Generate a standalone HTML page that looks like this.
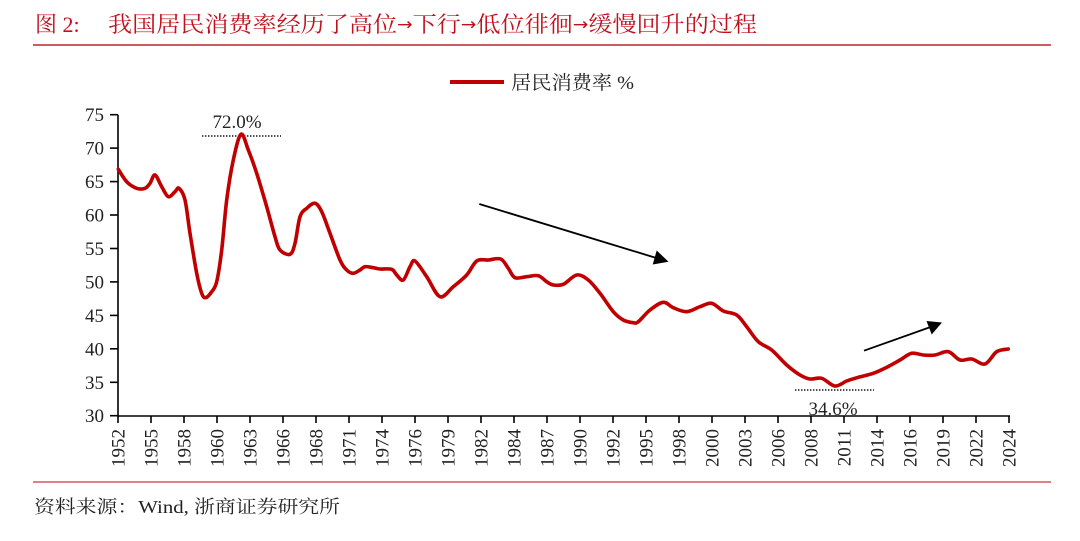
<!DOCTYPE html>
<html><head><meta charset="utf-8"><style>
html,body{margin:0;padding:0;background:#fff;}
svg{display:block;}
</style></head><body>
<svg width="1080" height="541" viewBox="0 0 1080 541" xmlns="http://www.w3.org/2000/svg">
<rect width="1080" height="541" fill="#fff"/>
<!-- title -->
<text x="35" y="32" font-family="'Liberation Serif','Noto Serif CJK SC',serif" font-size="22" fill="#c0101c">图 2:</text>
<text x="108" y="32" font-family="'Liberation Serif','Noto Serif CJK SC',serif" font-size="22" fill="#c0101c" textLength="649" lengthAdjust="spacingAndGlyphs">我国居民消费率经历了高位<tspan font-family="'DejaVu Sans',sans-serif" font-size="17" dy="-2">→</tspan><tspan dy="2">下行</tspan><tspan font-family="'DejaVu Sans',sans-serif" font-size="17" dy="-2">→</tspan><tspan dy="2">低位徘徊</tspan><tspan font-family="'DejaVu Sans',sans-serif" font-size="17" dy="-2">→</tspan><tspan dy="2">缓慢回升的过程</tspan></text>
<line x1="33" y1="45" x2="1051" y2="45" stroke="#d25a5c" stroke-width="2"/>
<!-- legend -->
<line x1="450" y1="82" x2="504" y2="82" stroke="#c00000" stroke-width="4"/>
<text x="511" y="89" font-family="'Liberation Serif','Noto Serif CJK SC',serif" font-size="19" fill="#222" textLength="123" lengthAdjust="spacingAndGlyphs">居民消费率 %</text>
<!-- y axis -->
<g stroke="#000" stroke-width="1.6">
<line x1="118" y1="114.7" x2="118" y2="416.5"/>
<line x1="110" y1="114.7" x2="118" y2="114.7"/>
<line x1="110" y1="148.1" x2="118" y2="148.1"/>
<line x1="110" y1="181.6" x2="118" y2="181.6"/>
<line x1="110" y1="215.0" x2="118" y2="215.0"/>
<line x1="110" y1="248.5" x2="118" y2="248.5"/>
<line x1="110" y1="281.9" x2="118" y2="281.9"/>
<line x1="110" y1="315.4" x2="118" y2="315.4"/>
<line x1="110" y1="348.8" x2="118" y2="348.8"/>
<line x1="110" y1="382.3" x2="118" y2="382.3"/>
<line x1="110" y1="415.7" x2="118" y2="415.7"/>
</g>
<g font-family="'Liberation Serif',serif" font-size="19" fill="#222" text-anchor="end">
<text x="104" y="121.2">75</text>
<text x="104" y="154.6">70</text>
<text x="104" y="188.1">65</text>
<text x="104" y="221.5">60</text>
<text x="104" y="255.0">55</text>
<text x="104" y="288.4">50</text>
<text x="104" y="321.9">45</text>
<text x="104" y="355.3">40</text>
<text x="104" y="388.8">35</text>
<text x="104" y="422.2">30</text>
</g>
<!-- bottom annotation text (under axis) -->
<text x="833" y="415" font-family="'Liberation Serif',serif" font-size="19" fill="#222" text-anchor="middle">34.6%</text>
<!-- x axis -->
<g stroke="#000" stroke-width="1.6">
<line x1="117" y1="416" x2="1010" y2="416"/>
<line x1="118" y1="416" x2="118" y2="423"/><line x1="151" y1="416" x2="151" y2="423"/><line x1="184" y1="416" x2="184" y2="423"/><line x1="217" y1="416" x2="217" y2="423"/><line x1="250" y1="416" x2="250" y2="423"/><line x1="283" y1="416" x2="283" y2="423"/><line x1="316" y1="416" x2="316" y2="423"/><line x1="349" y1="416" x2="349" y2="423"/><line x1="382" y1="416" x2="382" y2="423"/><line x1="415" y1="416" x2="415" y2="423"/><line x1="448" y1="416" x2="448" y2="423"/><line x1="481" y1="416" x2="481" y2="423"/><line x1="514" y1="416" x2="514" y2="423"/><line x1="547" y1="416" x2="547" y2="423"/><line x1="580" y1="416" x2="580" y2="423"/><line x1="613" y1="416" x2="613" y2="423"/><line x1="646" y1="416" x2="646" y2="423"/><line x1="679" y1="416" x2="679" y2="423"/><line x1="712" y1="416" x2="712" y2="423"/><line x1="745" y1="416" x2="745" y2="423"/><line x1="778" y1="416" x2="778" y2="423"/><line x1="811" y1="416" x2="811" y2="423"/><line x1="844" y1="416" x2="844" y2="423"/><line x1="877" y1="416" x2="877" y2="423"/><line x1="910" y1="416" x2="910" y2="423"/><line x1="943" y1="416" x2="943" y2="423"/><line x1="976" y1="416" x2="976" y2="423"/><line x1="1009" y1="416" x2="1009" y2="423"/>
</g>
<g font-family="'Liberation Serif',serif" font-size="19" fill="#222" text-anchor="end">
<text transform="translate(124.5,429) rotate(-90)">1952</text>
<text transform="translate(157.5,429) rotate(-90)">1955</text>
<text transform="translate(190.5,429) rotate(-90)">1958</text>
<text transform="translate(223.5,429) rotate(-90)">1960</text>
<text transform="translate(256.5,429) rotate(-90)">1963</text>
<text transform="translate(289.5,429) rotate(-90)">1966</text>
<text transform="translate(322.5,429) rotate(-90)">1968</text>
<text transform="translate(355.5,429) rotate(-90)">1971</text>
<text transform="translate(388.5,429) rotate(-90)">1974</text>
<text transform="translate(421.5,429) rotate(-90)">1976</text>
<text transform="translate(454.5,429) rotate(-90)">1979</text>
<text transform="translate(487.5,429) rotate(-90)">1982</text>
<text transform="translate(520.5,429) rotate(-90)">1984</text>
<text transform="translate(553.5,429) rotate(-90)">1987</text>
<text transform="translate(586.5,429) rotate(-90)">1990</text>
<text transform="translate(619.5,429) rotate(-90)">1992</text>
<text transform="translate(652.5,429) rotate(-90)">1995</text>
<text transform="translate(685.5,429) rotate(-90)">1998</text>
<text transform="translate(718.5,429) rotate(-90)">2000</text>
<text transform="translate(751.5,429) rotate(-90)">2003</text>
<text transform="translate(784.5,429) rotate(-90)">2006</text>
<text transform="translate(817.5,429) rotate(-90)">2008</text>
<text transform="translate(850.5,429) rotate(-90)">2011</text>
<text transform="translate(883.5,429) rotate(-90)">2014</text>
<text transform="translate(916.5,429) rotate(-90)">2016</text>
<text transform="translate(949.5,429) rotate(-90)">2019</text>
<text transform="translate(982.5,429) rotate(-90)">2022</text>
<text transform="translate(1015.5,429) rotate(-90)">2024</text>
</g>
<!-- annotations -->
<text x="237" y="128" font-family="'Liberation Serif',serif" font-size="19" fill="#222" text-anchor="middle">72.0%</text>
<line x1="202" y1="136" x2="281" y2="136" stroke="#111" stroke-width="1.6" stroke-dasharray="1.4 1.6"/>
<line x1="795" y1="390" x2="874" y2="390" stroke="#111" stroke-width="1.6" stroke-dasharray="1.4 1.6"/>
<!-- arrows -->
<line x1="479.3" y1="204" x2="658" y2="258.5" stroke="#000" stroke-width="1.8"/>
<polygon points="652.7,264.5 656.7,250.5 668.5,261.7" fill="#000"/>
<line x1="864" y1="350.7" x2="932" y2="326.5" stroke="#000" stroke-width="1.8"/>
<polygon points="926.5,321 931.7,334.5 942,322.5" fill="#000"/>
<!-- series -->
<polyline id="series" fill="none" stroke="#c00000" stroke-width="3.6" stroke-linejoin="round" stroke-linecap="round" points="118.3,169.3 126.7,181.7 136.7,188.3 145,188.3 150,183.3 155,175 161.7,186.7 168.3,196.7 175,191.7 179,188.3 185,200 190,233.3 196.7,273.3 201.7,293.3 205.7,297.7 211.7,291.7 216.7,281.7 221.7,250 226.7,200 233.3,160 241,134.3 248.3,150 256.7,173.3 266.7,206.7 275,236.7 280,250 290,254.3 295,243.3 300,216.7 306.7,208.3 315,203.3 321.7,211.7 330,233.3 340,260 346.7,270 353.3,273.3 360,270 365,266.7 373.3,267.7 380,269 391.7,269.3 396.7,275 403.3,280 410,266.7 415,261 426.7,276.7 440,296.7 453.3,286.7 466.7,275 476.7,261 488.3,260 500.7,259 508.3,268.3 515,277.7 526.7,276.7 538.3,275.7 546.7,281.7 553.3,285 563.3,284.3 576.7,275 588.3,280 600,293.3 613.3,311.7 623.3,320 633.3,322.7 638.3,321.7 650,310 663.3,302.3 673.3,307.7 686.7,311.7 700,306.7 711.7,303.3 723.3,311 736.7,315 746.7,326.7 758.3,341.7 771.7,350 786.7,365 800,375 810,379 821.7,378.3 835,386 846.7,381 858.3,377.3 873.3,373.3 886.7,367.3 900,360 911.7,353.3 923.3,355 935,355 948.3,351.7 960,360 971.7,359 985,364 996.7,351.7 1008.3,349"/>
<!-- footer -->
<line x1="33" y1="482" x2="1051" y2="482" stroke="#d25a5c" stroke-width="1.6"/>
<text x="34" y="513" font-family="'Liberation Serif','Noto Serif CJK SC',serif" font-size="18" fill="#222" textLength="306" lengthAdjust="spacingAndGlyphs">资料来源：Wind, 浙商证券研究所</text>
</svg>
<script>
(function(){
  try{
    var pl=document.getElementById('series');
    var pts=pl.getAttribute('points').trim().split(/\s+/).map(function(s){var a=s.split(',');return [parseFloat(a[0]),parseFloat(a[1])];});
    var d='M'+pts[0][0]+','+pts[0][1];
    var t=0.5;
    for(var i=0;i<pts.length-1;i++){
      var p0=pts[i-1]||pts[i],p1=pts[i],p2=pts[i+1],p3=pts[i+2]||pts[i+1];
      var c1x=p1[0]+(p2[0]-p0[0])*t/3,c1y=p1[1]+(p2[1]-p0[1])*t/3;
      var c2x=p2[0]-(p3[0]-p1[0])*t/3,c2y=p2[1]-(p3[1]-p1[1])*t/3;
      d+=' C'+c1x.toFixed(2)+','+c1y.toFixed(2)+' '+c2x.toFixed(2)+','+c2y.toFixed(2)+' '+p2[0]+','+p2[1];
    }
    var ns='http://www.w3.org/2000/svg';
    var path=document.createElementNS(ns,'path');
    path.setAttribute('d',d);
    path.setAttribute('fill','none');
    path.setAttribute('stroke','#c00000');
    path.setAttribute('stroke-width','3.6');
    path.setAttribute('stroke-linejoin','round');
    path.setAttribute('stroke-linecap','round');
    pl.parentNode.replaceChild(path,pl);
  }catch(e){}
})();
</script>
</body></html>
